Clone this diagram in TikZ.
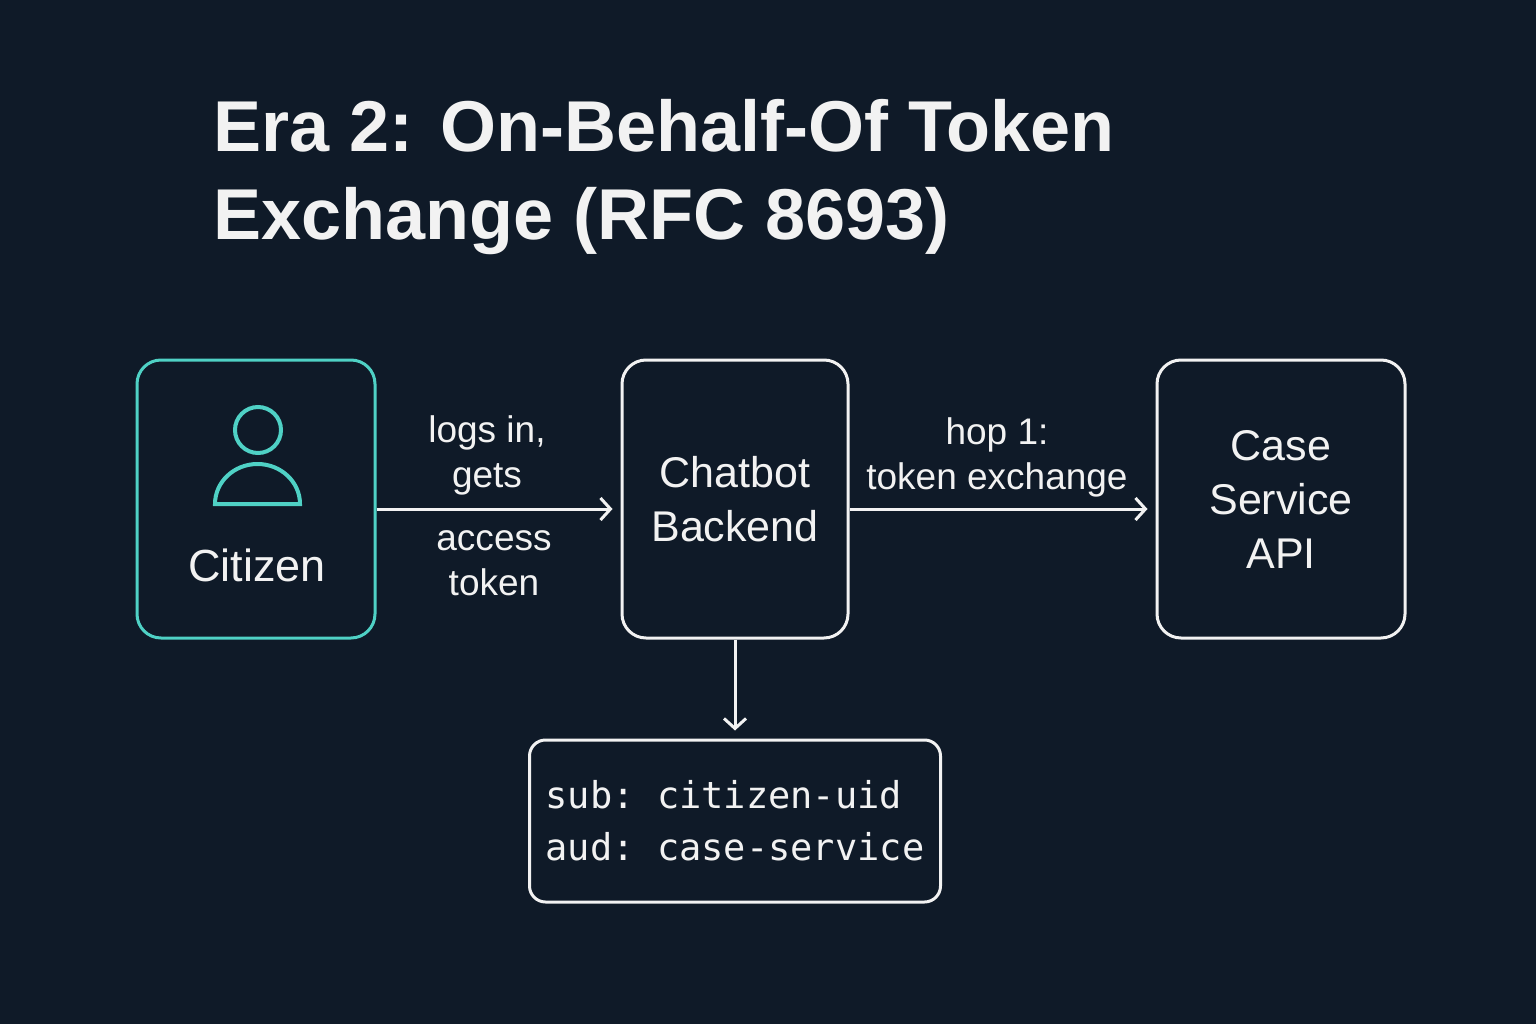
\documentclass[tikz,border=0pt]{standalone}
\usepackage{fontspec}
\setmainfont{Liberation Sans}
\newfontfamily\monof{DejaVu Sans Mono}
\usetikzlibrary{arrows.meta}
\definecolor{bg}{HTML}{0F1A28}
\definecolor{teal}{HTML}{4FD1C5}
\definecolor{fg}{HTML}{F2F2F2}
\begin{document}
\begin{tikzpicture}[x=1pt,y=-1pt,
  box/.style={draw=fg,line width=3pt,rounded corners=24pt,align=center,text=fg,font=\fontsize{43}{54}\selectfont,inner sep=0pt},
  lbl/.style={text=fg,align=center,font=\fontsize{37}{45}\selectfont},
  arr/.style={draw=fg,line width=3pt,shorten >=8pt,-{Straight Barb[length=10pt,width=22pt,line width=3pt]}}]
\fill[bg] (0,0) rectangle (1536,1024);
\useasboundingbox (0,0) rectangle (1536,1024);
\node[anchor=north west,text=fg,align=left,font=\bfseries\fontsize{72}{88}\selectfont] (title) at (210,96) {Era 2: On-Behalf-Of Token\\Exchange (RFC 8693)};
\node[box,draw=teal,minimum width=238pt,minimum height=278pt] (cit) at (256,499) {};
\node[text=fg,font=\fontsize{45}{52}\selectfont] (citl) at (257,565) {Citizen};
\draw[teal,line width=4pt] (258,430) circle (23);
\draw[teal,line width=4pt] (215,504) arc[start angle=180,end angle=0,x radius=42.5,y radius=-40] -- cycle;
\node[box,minimum width=226pt,minimum height=278pt] (chat) at (735,499) {Chatbot\\Backend};
\node[box,minimum width=248pt,minimum height=278pt] (case) at (1281,499) {Case\\Service\\API};
\node[box,rounded corners=16pt,minimum width=411pt,minimum height=162pt,font=\monof\fontsize{37}{52}\selectfont,align=left] (tok) at (735,821) {sub:~citizen-uid\\aud:~case-service};
\draw[arr] (cit.east |- 0,509) -- (chat.west |- 0,509);
\draw[arr] (chat.east |- 0,509) -- (case.west |- 0,509);
\draw[arr] (chat.south) -- (tok.north);
\node[lbl] (l1) at (487,455) {logs in,\\gets};
\node[lbl] (l2) at (494,563) {access\\token};
\node[lbl] (l3) at (997,457) {hop 1:\\token exchange};
\end{tikzpicture}
\end{document}
